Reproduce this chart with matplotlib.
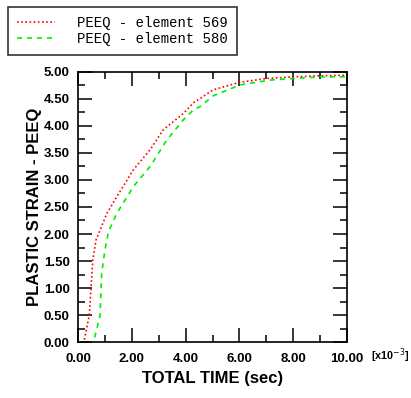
import matplotlib
matplotlib.use("Agg")
import matplotlib.pyplot as plt
from matplotlib.ticker import MultipleLocator

# time in units of 1e-3 sec, PEEQ values
t_569 = [0.0, 0.22, 0.42, 0.55, 0.67, 0.82, 1.07, 1.44, 2.06, 2.68, 3.17, 3.91, 4.29, 4.54,
         5.03, 6.02, 7.01, 8.0, 9.0, 9.95, 10.0]
peeq_569 = [0.0, 0.0, 0.50, 1.52, 1.89, 2.07, 2.38, 2.69, 3.19, 3.56, 3.93, 4.23, 4.43, 4.51,
            4.67, 4.81, 4.88, 4.91, 4.93, 4.94, 4.94]

t_580 = [0.0, 0.45, 0.57, 0.69, 0.82, 0.88, 1.0, 1.13, 1.44, 2.06, 2.68, 3.30, 3.91, 4.29,
         4.54, 5.03, 6.02, 7.13, 8.0, 9.0, 10.0]
peeq_580 = [0.0, 0.0, 0.0, 0.22, 0.50, 1.27, 1.70, 2.04, 2.38, 2.88, 3.25, 3.74, 4.11, 4.30,
            4.36, 4.56, 4.76, 4.85, 4.88, 4.91, 4.91]

labels = ["PEEQ - element 569", "PEEQ - element 580"]

fig = plt.figure(figsize=(4.11, 3.98), dpi=100)
ax = fig.add_axes([0.1898, 0.1407, 0.6545, 0.6784])

l1, = ax.plot(t_569, peeq_569, color="red", linestyle=(0, (1, 1.5)), linewidth=1.2)
l2, = ax.plot(t_580, peeq_580, color="#00ee00", linestyle=(0, (3, 3)), linewidth=1.2)

ax.set_xlim(0, 10)
ax.set_ylim(0, 5)
ax.xaxis.set_major_locator(MultipleLocator(2))
ax.xaxis.set_minor_locator(MultipleLocator(1))
ax.yaxis.set_major_locator(MultipleLocator(0.5))
ax.yaxis.set_minor_locator(MultipleLocator(0.25))
ax.xaxis.set_major_formatter(lambda v, p: "%.2f" % v)
ax.yaxis.set_major_formatter(lambda v, p: "%.2f" % v)
ax.tick_params(which="both", direction="in", top=True, right=True, width=1.1)
ax.tick_params(which="major", length=10)
ax.tick_params(which="minor", length=5)
ax.tick_params(axis="y", pad=6)
ax.tick_params(axis="x", pad=8)
for lab in ax.get_xticklabels() + ax.get_yticklabels():
    lab.set_fontfamily("Liberation Sans")
    lab.set_fontweight("bold")
    lab.set_fontsize(9.5)
for s in ax.spines.values():
    s.set_linewidth(1.2)

ax.set_xlabel("TOTAL TIME (sec)", fontfamily="Liberation Sans", fontweight="bold", fontsize=12, labelpad=4)
ax.set_ylabel("PLASTIC STRAIN - PEEQ", fontfamily="Liberation Sans", fontweight="bold", fontsize=12, labelpad=1.5)

fig.text(0.902, 0.106, "[x10$^{-3}$]", fontfamily="Liberation Sans", fontweight="bold", fontsize=7.8,
         ha="left", va="center")

leg = fig.legend([l1, l2], labels, loc="upper left", bbox_to_anchor=(8 / 411, 1 - 7 / 398),
                 borderaxespad=0, prop={"family": "Liberation Mono", "size": 10}, frameon=True,
                 fancybox=False, edgecolor="black", handlelength=2.7, handletextpad=1.6,
                 borderpad=0.65, labelspacing=0.15)
leg.get_frame().set_linewidth(1.2)

fig.savefig("out.png", dpi=100)
